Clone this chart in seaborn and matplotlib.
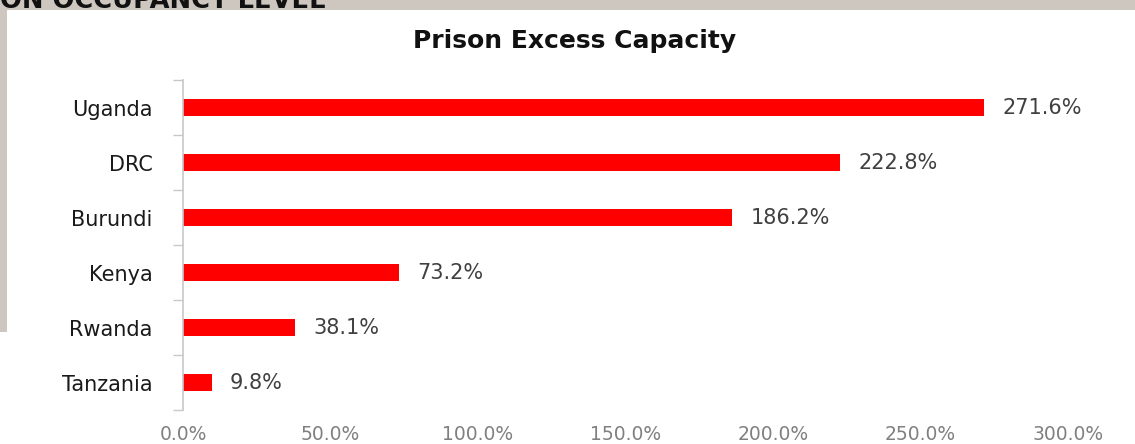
import matplotlib
matplotlib.use("Agg")
import matplotlib.pyplot as plt
import seaborn as sns
import pandas as pd
from matplotlib.patches import Rectangle
from matplotlib.ticker import FixedLocator, FuncFormatter

countries = ["Uganda", "DRC", "Burundi", "Kenya", "Rwanda", "Tanzania"]
excess = [271.6, 222.8, 186.2, 73.2, 38.1, 9.8]
x_ticks = [0, 50, 100, 150, 200, 250, 300]
title = "Prison Excess Capacity"
header = "ON OCCUPANCY LEVEL"

df = pd.DataFrame({"country": countries, "excess": excess})

sns.set_theme(style="white")
plt.rcParams["font.family"] = ["DejaVu Sans"]

W, H = 1135, 444
fig = plt.figure(figsize=(W / 100, H / 100), dpi=100, facecolor="#cdc7c0")

# header text peeking above the white panel
fig.text(0.0, 1 - 8 / H, header, fontsize=18.5, fontweight="bold", color="#111111",
         ha="left", va="baseline", zorder=0.5)
# white panel
fig.patches.append(Rectangle((7 / W, 0), 1 - 7 / W, 1 - 10 / H, transform=fig.transFigure,
                             facecolor="white", edgecolor="none", zorder=1))
fig.patches.append(Rectangle((0, 0), 7 / W, 1 - 332 / H, transform=fig.transFigure,
                             facecolor="white", edgecolor="none", zorder=1))

ax = fig.add_axes([183 / W, 1 - 410 / H, (1068 - 183) / W, (410 - 80) / H], zorder=2)
ax.set_facecolor("none")

sns.barplot(data=df, x="excess", y="country", orient="h", color="#ff0000",
            saturation=1, width=0.31, linewidth=0, ax=ax)

ax.set_xlim(0, 300)
ax.set_ylim(len(countries) - 0.5, -0.5)
ax.set_xticks(x_ticks)
ax.xaxis.set_major_formatter(FuncFormatter(lambda v, p: f"{v:.1f}%"))
ax.tick_params(axis="x", length=0, pad=11, labelsize=13.5, labelcolor="#808080")
ax.tick_params(axis="y", which="major", length=0, pad=22, labelsize=15, labelcolor="#1a1a1a")
ax.yaxis.set_minor_locator(FixedLocator([i - 0.5 for i in range(len(countries) + 1)]))
ax.tick_params(axis="y", which="minor", length=7.5, width=1, color="#c8c8c8", left=True)
ax.set_xlabel("")
ax.set_ylabel("")
for s in ["top", "right", "bottom"]:
    ax.spines[s].set_visible(False)
ax.spines["left"].set_color("#c8c8c8")
ax.spines["left"].set_linewidth(1.2)

for c in ax.containers:
    ax.bar_label(c, labels=[f"{v:.1f}%" for v in excess], padding=13,
                 fontsize=15, color="#404040")

fig.text(575 / W, 1 - 41 / H, title, fontsize=18, fontweight="bold", color="#111111",
         ha="center", va="center", zorder=3)

fig.savefig("out.png", dpi=100, facecolor=fig.get_facecolor())
